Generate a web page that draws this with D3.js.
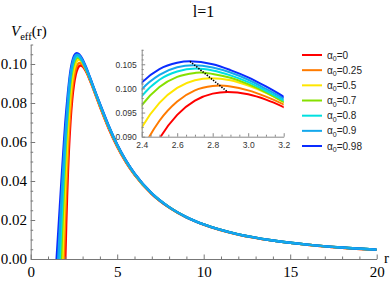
<!DOCTYPE html>
<html>
<head>
<meta charset="utf-8">
<script src="https://cdnjs.cloudflare.com/ajax/libs/d3/7.8.5/d3.min.js"></script>
<style>
	body { margin: 0; background: #fff; }
	svg { display: block; }
</style>
</head>
<body>
<svg id="chart"></svg>
<script>
'use strict';

var alphas = ['0', '0.25', '0.5', '0.7', '0.8', '0.9', '0.98'];
var colors = ['#ff0000', '#ff7b00', '#ffe600', '#86e000', '#00e0e0', '#14a8ec', '#0a2cff'];

// r and V_eff(r), one pair of arrays per alpha0
var r0 = [1.95, 2.0, 2.05, 2.1, 2.15, 2.2, 2.3, 2.4, 2.5, 2.6, 2.7, 2.8, 2.883, 3.0, 3.1, 3.2, 3.4, 3.6, 3.8, 4.0, 4.5, 5, 5.5, 6, 7, 8, 9, 10, 12, 14, 16, 18, 20];
var v0 = [-0.0204, 0, 0.0173, 0.0319, 0.0442, 0.0546, 0.0708, 0.0820, 0.0896, 0.09453, 0.09747, 0.09892, 0.09926, 0.09877, 0.09767, 0.09613, 0.0922, 0.0876, 0.0829, 0.0781, 0.0671, 0.0576, 0.0497, 0.0432, 0.0333, 0.0264, 0.0213, 0.0176, 0.0125, 0.0094, 0.0073, 0.0058, 0.0047];

var r025 = [1.854, 1.918, 1.991, 2.075, 2.18, 2.3, 2.4, 2.5, 2.6, 2.7, 2.8, 2.84, 2.9, 3.0, 3.1, 3.2, 3.4, 3.6, 3.8, 4.0, 4.5, 5, 5.5, 6, 7, 8, 9, 10, 12, 14, 16, 18, 20];
var v025 = [-0.02, 0, 0.02, 0.04, 0.06, 0.0769, 0.0869, 0.0933, 0.0973, 0.0996, 0.1005, 0.1006, 0.1004, 0.0996, 0.0983, 0.0967, 0.0927, 0.0880, 0.0833, 0.0786, 0.0675, 0.0579, 0.0500, 0.0434, 0.0334, 0.0265, 0.0214, 0.0176, 0.0125, 0.0094, 0.0073, 0.0058, 0.0047];

var r05 = [1.757, 1.837, 1.917, 2.006, 2.113, 2.2, 2.3, 2.4, 2.5, 2.6, 2.7, 2.79, 2.9, 3.0, 3.1, 3.2, 3.4, 3.6, 3.8, 4.0, 4.5, 5, 5.5, 6, 7, 8, 9, 10, 12, 14, 16, 18, 20];
var v05 = [-0.02, 0, 0.02, 0.04, 0.06, 0.0725, 0.0840, 0.0919, 0.0970, 0.1001, 0.1017, 0.1021, 0.1017, 0.1006, 0.0991, 0.0972, 0.0930, 0.0883, 0.0836, 0.0789, 0.0678, 0.0582, 0.0502, 0.0436, 0.0335, 0.0265, 0.0214, 0.0177, 0.0126, 0.0095, 0.0074, 0.0059, 0.0048];

var r07 = [1.661, 1.755, 1.841, 1.935, 2.044, 2.2, 2.3, 2.4, 2.5, 2.6, 2.7, 2.73, 2.8, 2.9, 3.0, 3.1, 3.2, 3.4, 3.6, 3.8, 4.0, 4.5, 5, 5.5, 6, 7, 8, 9, 10, 12, 14, 16, 18, 20];
var v07 = [-0.02, 0, 0.02, 0.04, 0.06, 0.0807, 0.0904, 0.0965, 0.1003, 0.1024, 0.1032, 0.1033, 0.1030, 0.1022, 0.1009, 0.0992, 0.0972, 0.0931, 0.0884, 0.0837, 0.0790, 0.0680, 0.0583, 0.0503, 0.0436, 0.0335, 0.0265, 0.0214, 0.0177, 0.0126, 0.0095, 0.0074, 0.0059, 0.0048];

var r08 = [1.565, 1.674, 1.778, 1.886, 2.005, 2.1, 2.2, 2.3, 2.4, 2.5, 2.6, 2.705, 2.8, 2.9, 3.0, 3.1, 3.2, 3.4, 3.6, 3.8, 4.0, 4.5, 5, 5.5, 6, 7, 8, 9, 10, 12, 14, 16, 18, 20];
var v08 = [-0.02, 0, 0.02, 0.04, 0.06, 0.0720, 0.0843, 0.0929, 0.0984, 0.1018, 0.1035, 0.1041, 0.1037, 0.1027, 0.1013, 0.0995, 0.0975, 0.0934, 0.0886, 0.0839, 0.0793, 0.0682, 0.0585, 0.0504, 0.0437, 0.0336, 0.0266, 0.0215, 0.0177, 0.0126, 0.0095, 0.0074, 0.0059, 0.0048];

var r09 = [1.469, 1.592, 1.715, 1.84, 1.974, 2.1, 2.2, 2.3, 2.4, 2.5, 2.6, 2.69, 2.8, 2.9, 3.0, 3.1, 3.2, 3.4, 3.6, 3.8, 4.0, 4.5, 5, 5.5, 6, 7, 8, 9, 10, 12, 14, 16, 18, 20];
var v09 = [-0.02, 0, 0.02, 0.04, 0.06, 0.0752, 0.0867, 0.0947, 0.0998, 0.1028, 0.1044, 0.1048, 0.10435, 0.1033, 0.1018, 0.0999, 0.0979, 0.0935, 0.0887, 0.0840, 0.0794, 0.0683, 0.0586, 0.0505, 0.0438, 0.0337, 0.0266, 0.0215, 0.0177, 0.0126, 0.0095, 0.0074, 0.0059, 0.0048];

var r098 = [1.36, 1.50, 1.64, 1.78, 1.925, 2.0, 2.1, 2.2, 2.3, 2.4, 2.5, 2.6, 2.672, 2.8, 2.9, 3.0, 3.1, 3.2, 3.4, 3.6, 3.8, 4.0, 4.5, 5, 5.5, 6, 7, 8, 9, 10, 12, 14, 16, 18, 20];
var v098 = [-0.02, 0, 0.02, 0.04, 0.06, 0.0695, 0.0800, 0.0892, 0.0965, 0.1012, 0.1040, 0.1053, 0.1056, 0.1050, 0.1038, 0.1023, 0.1004, 0.0983, 0.0937, 0.0889, 0.0842, 0.0796, 0.0685, 0.0587, 0.0506, 0.0439, 0.0337, 0.0266, 0.0215, 0.0177, 0.0126, 0.0095, 0.0074, 0.0059, 0.0048];

// dotted line joining the maxima of the outer two curves
var peakR = [2.672, 2.883];
var peakV = [0.1056, 0.0993];

var xTicks = [0, 5, 10, 15, 20];
var xTickLabels = ['0', '5', '10', '15', '20'];
var yTicks = [0, 0.02, 0.04, 0.06, 0.08, 0.10];
var yTickLabels = ['0.00', '0.02', '0.04', '0.06', '0.08', '0.10'];
var insetXTicks = [2.4, 2.6, 2.8, 3.0, 3.2];
var insetXTickLabels = ['2.4', '2.6', '2.8', '3.0', '3.2'];
var insetYTicks = [0.090, 0.095, 0.100, 0.105];
var insetYTickLabels = ['0.090', '0.095', '0.100', '0.105'];

var rs = [r0, r025, r05, r07, r08, r09, r098],
	vs = [v0, v025, v05, v07, v08, v09, v098],
	drawOrder = [0, 1, 2, 3, 4, 6, 5];

var series = alphas.map(function(a, i) {
	return { alpha: a, color: colors[i], points: d3.zip(rs[i], vs[i]) };
});

var width = 392,
	height = 281,
	serif = '"Liberation Serif", "Times New Roman", serif',
	sans = '"Liberation Sans", Arial, sans-serif',
	svg = d3.select('svg#chart').attr('width', width).attr('height', height);

var x = d3.scaleLinear().domain([0, 20]).range([30.7, 376.7]),
	y = d3.scaleLinear().domain([0, 0.11]).range([259, 44.5]),
	xi = d3.scaleLinear().domain([2.4, 3.2]).range([141.7, 283.7]),
	yi = d3.scaleLinear().domain([0.09, 0.1081]).range([136.7, 49.3]);

function minors(lo, hi, step, majors) {
	return d3.range(Math.round((hi - lo) / step) + 1).map(function(i) { return +(lo + i * step).toFixed(4); })
		.filter(function(v) { return majors.every(function(m) { return Math.abs(m - v) > 1e-6; }); });
}

var defs = svg.append('defs');
defs.append('clipPath').attr('id', 'clip-main').append('rect')
	.attr('x', x(0)).attr('y', y(0.11)).attr('width', x(20) - x(0)).attr('height', y(0) - y(0.11));
defs.append('clipPath').attr('id', 'clip-inset').append('rect')
	.attr('x', xi(2.4)).attr('y', yi(0.1081)).attr('width', xi(3.2) - xi(2.4)).attr('height', yi(0.09) - yi(0.1081));

function styleAxis(g, color, font, size, fill) {
	g.select('.domain').attr('stroke', color).attr('stroke-width', 1);
	g.selectAll('.tick line').attr('stroke', color).attr('stroke-width', 1);
	g.selectAll('.tick text').attr('font-family', font).attr('font-size', size).attr('fill', fill);
}

// main curves
var mainLine = d3.line().curve(d3.curveMonotoneX)
	.x(function(d) { return x(d[0]); })
	.y(function(d) { return y(d[1]); });

svg.append('g').attr('clip-path', 'url(#clip-main)')
	.selectAll('path').data(drawOrder.map(function(i) { return series[i]; }))
	.enter().append('path')
	.attr('d', function(d) { return mainLine(d.points); })
	.attr('fill', 'none')
	.attr('stroke', function(d) { return d.color; })
	.attr('stroke-width', 2.4);

// main axes
var gx = svg.append('g').attr('transform', 'translate(0,' + y(0) + ')');
gx.append('g').call(d3.axisBottom(x).tickValues(minors(0, 20, 1, xTicks)).tickSize(-2.5).tickSizeOuter(0).tickFormat(''))
	.call(function(g) { g.select('.domain').remove(); })
	.call(styleAxis, '#777', serif, 15, '#000');
gx.append('g').call(d3.axisBottom(x).tickValues(xTicks).tickSize(-4.5).tickSizeOuter(0).tickPadding(7.3)
	.tickFormat(function(d, i) { return xTickLabels[i]; }))
	.call(styleAxis, '#777', serif, 15, '#000');

var gy = svg.append('g').attr('transform', 'translate(' + x(0) + ',0)');
gy.append('g').call(d3.axisLeft(y).tickValues(minors(0, 0.11, 0.005, yTicks)).tickSize(-2.5).tickSizeOuter(0).tickFormat(''))
	.call(function(g) { g.select('.domain').remove(); })
	.call(styleAxis, '#777', serif, 15, '#000');
gy.append('g').call(d3.axisLeft(y).tickValues(yTicks).tickSize(-4.5).tickSizeOuter(0).tickPadding(3.7)
	.tickFormat(function(d, i) { return yTickLabels[i]; }))
	.call(styleAxis, '#777', serif, 15, '#000');

// axis labels and title
var vLabel = svg.append('text').attr('x', 11).attr('y', 36)
	.attr('font-family', serif).attr('font-size', 15).attr('fill', '#000');
vLabel.append('tspan').attr('font-style', 'italic').text('V');
vLabel.append('tspan').attr('font-size', 10.5).attr('dy', 3.5).text('eff');
vLabel.append('tspan').attr('dy', -3.5).text('(r)');

svg.append('text').attr('x', 384).attr('y', 263)
	.attr('font-family', serif).attr('font-size', 15).attr('fill', '#000').text('r');

svg.append('text').attr('x', 203.5).attr('y', 17.3).attr('text-anchor', 'middle')
	.attr('font-family', serif).attr('font-size', 16).attr('fill', '#000').text('l=1');

// inset
var insetLine = d3.line().curve(d3.curveMonotoneX)
	.x(function(d) { return xi(d[0]); })
	.y(function(d) { return yi(d[1]); });

var inset = svg.append('g');
inset.append('g').attr('clip-path', 'url(#clip-inset)')
	.selectAll('path').data(series)
	.enter().append('path')
	.attr('d', function(d) { return insetLine(d.points); })
	.attr('fill', 'none')
	.attr('stroke', function(d) { return d.color; })
	.attr('stroke-width', 2);

inset.append('path')
	.attr('d', insetLine.curve(d3.curveLinear)(d3.zip(peakR, peakV)))
	.attr('fill', 'none')
	.attr('stroke', '#000')
	.attr('stroke-width', 1.6)
	.attr('stroke-dasharray', '1.4,1.3');

var gxi = inset.append('g').attr('transform', 'translate(0,' + yi(0.09) + ')');
gxi.append('g').call(d3.axisBottom(xi).tickValues(minors(2.4, 3.2, 0.05, insetXTicks)).tickSize(-2).tickSizeOuter(0).tickFormat(''))
	.call(function(g) { g.select('.domain').remove(); })
	.call(styleAxis, '#888', sans, 8.5, '#333');
gxi.append('g').call(d3.axisBottom(xi).tickValues(insetXTicks).tickSize(-3.5).tickSizeOuter(0).tickPadding(5.6)
	.tickFormat(function(d, i) { return insetXTickLabels[i]; }))
	.call(styleAxis, '#888', sans, 8.5, '#333');

var gyi = inset.append('g').attr('transform', 'translate(' + xi(2.4) + ',0)');
gyi.append('g').call(d3.axisLeft(yi).tickValues(minors(0.09, 0.108, 0.001, insetYTicks)).tickSize(-2).tickSizeOuter(0).tickFormat(''))
	.call(function(g) { g.select('.domain').remove(); })
	.call(styleAxis, '#888', sans, 8.5, '#333');
gyi.append('g').call(d3.axisLeft(yi).tickValues(insetYTicks).tickSize(-3.5).tickSizeOuter(0).tickPadding(5)
	.tickFormat(function(d, i) { return insetYTickLabels[i]; }))
	.call(styleAxis, '#888', sans, 8.5, '#333');

// legend
var legend = svg.append('g').selectAll('g').data(series)
	.enter().append('g')
	.attr('transform', function(d, i) { return 'translate(302,' + (55 + i * 15.17) + ')'; });
legend.append('line')
	.attr('x1', 0).attr('x2', 20).attr('y1', 0).attr('y2', 0)
	.attr('stroke', function(d) { return d.color; })
	.attr('stroke-width', 2);
var lt = legend.append('text').attr('x', 25).attr('y', 3.6)
	.attr('font-family', sans).attr('font-size', 10).attr('fill', '#222');
lt.append('tspan').text('α');
lt.append('tspan').attr('font-size', 7).attr('dy', 2.5).text('0');
lt.append('tspan').attr('dy', -2.5).text(function(d) { return '=' + d.alpha; });
</script>
</body>
</html>
